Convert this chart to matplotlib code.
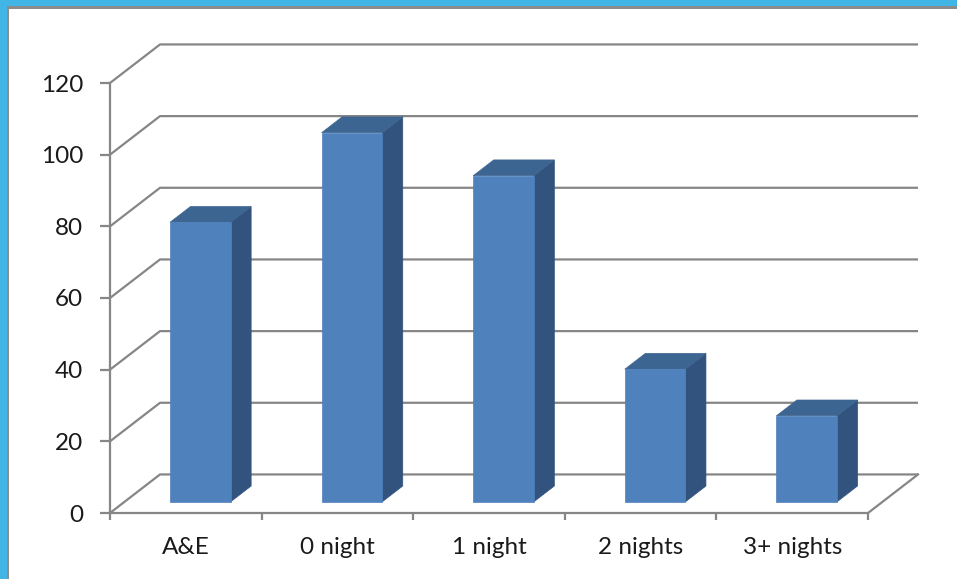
import matplotlib
matplotlib.use("Agg")
import matplotlib.pyplot as plt
from matplotlib.patches import Polygon, Rectangle

# Data
categories = ["A&E", "0 night", "1 night", "2 nights", "3+ nights"]
values = [78, 103, 91, 37, 24]
y_ticks = [0, 20, 40, 60, 80, 100, 120]

# oblique depth of the 3D box (in data units) and bar placement
DX = 0.33
DY = 10.76
Z_FRONT, Z_BACK = 0.29, 0.70
BAR_W = 0.4

grid_col = "#868686"
front_col = "#4f81bd"
top_col = "#3d6591"
side_col = "#32537d"
text_col = "#1a1a1a"
plt.rcParams["font.family"] = ["Lato", "DejaVu Sans"]

W, H = 957, 579
fig = plt.figure(figsize=(W / 100, H / 100), dpi=100)
ax = fig.add_axes([110 / W, (H - 513) / H, 758 / W, 430 / H])
ax.set_xlim(0, len(categories))
ax.set_ylim(0, 120)
ax.patch.set_visible(False)


def pt(x, y, z):
    return (x + z * DX, y + z * DY)


# back wall gridlines + left wall diagonals
n = len(categories)
for v in y_ticks:
    ax.plot([0, DX, n + DX], [v, v + DY, v + DY], color=grid_col, lw=1.6,
            clip_on=False, zorder=1, solid_capstyle="butt")
# right edge of the floor
ax.plot([n, n + DX], [0, DY], color=grid_col, lw=1.6, clip_on=False, zorder=1)

# bars
for i, v in enumerate(values):
    x0 = i + 0.5 - BAR_W / 2
    x1 = x0 + BAR_W
    side = [pt(x1, 0, Z_FRONT), pt(x1, 0, Z_BACK), pt(x1, v, Z_BACK), pt(x1, v, Z_FRONT)]
    top = [pt(x0, v, Z_FRONT), pt(x1, v, Z_FRONT), pt(x1, v, Z_BACK), pt(x0, v, Z_BACK)]
    front = [pt(x0, 0, Z_FRONT), pt(x1, 0, Z_FRONT), pt(x1, v, Z_FRONT), pt(x0, v, Z_FRONT)]
    for poly, c in [(side, side_col), (top, top_col), (front, front_col)]:
        ax.add_patch(Polygon(poly, closed=True, facecolor=c, edgecolor=c,
                             lw=0.5, zorder=3, clip_on=False))

# axes: y axis on the left, floor front edge at the bottom
for s in ["top", "right"]:
    ax.spines[s].set_visible(False)
for s in ["left", "bottom"]:
    ax.spines[s].set_color(grid_col)
    ax.spines[s].set_linewidth(1.6)

ax.set_yticks(y_ticks)
ax.tick_params(axis="y", direction="out", length=7.2, width=1.6, color=grid_col,
               labelsize=17.5, labelcolor=text_col, pad=12)
ax.set_xticks(range(n + 1))
ax.set_xticklabels([])
ax.set_xticks([i + 0.5 for i in range(n)], minor=True)
ax.set_xticklabels(categories, minor=True)
ax.tick_params(axis="x", which="major", direction="out", length=5, width=1.6, color=grid_col)
ax.tick_params(axis="x", which="minor", length=0, labelsize=17.5, labelcolor=text_col, pad=17)

# blue window frame at top and left
fig.add_artist(Rectangle((7 / W, 1 - 9 / H), 1, 3 / H, transform=fig.transFigure,
                         facecolor="#8c8c8c", edgecolor="none"))
fig.add_artist(Rectangle((7 / W, 0), 2 / W, 1, transform=fig.transFigure,
                         facecolor="#8c8c8c", edgecolor="none"))
fig.add_artist(Rectangle((0, 1 - 6 / H), 1, 6 / H, transform=fig.transFigure,
                         facecolor="#41b6e6", edgecolor="none"))
fig.add_artist(Rectangle((0, 0), 7 / W, 1, transform=fig.transFigure,
                         facecolor="#41b6e6", edgecolor="none"))

fig.savefig("out.png", dpi=100)
